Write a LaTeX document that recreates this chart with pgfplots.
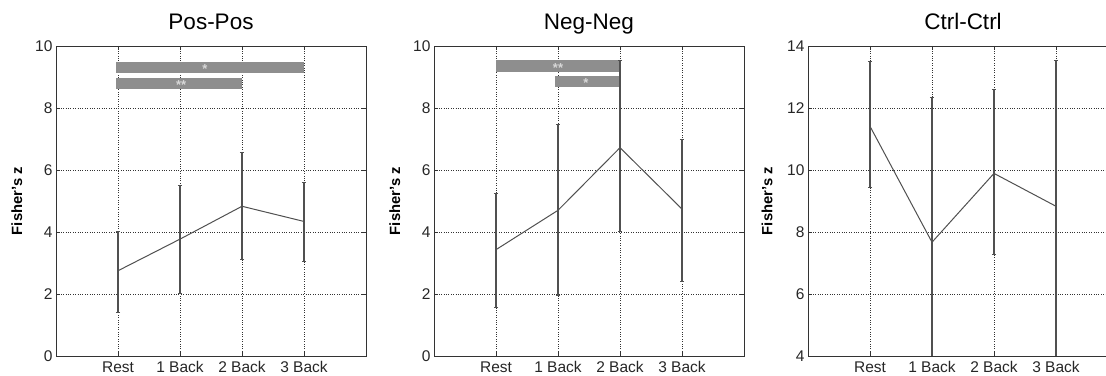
\documentclass[border=0pt]{standalone}
\usepackage{pgfplots}
\pgfplotsset{compat=1.18}
\usepackage{fontspec}
\setmainfont{Liberation Sans}
\definecolor{dline}{HTML}{505050}
\definecolor{barfill}{HTML}{8E8E8E}
\definecolor{starc}{HTML}{D8D8D8}
\pgfplotsset{
  mstyle/.style={
    scale only axis, width=310pt, height=310pt, anchor=south west,
    xmin=0, xmax=5, xtick={1,2,3,4},
    xticklabels={Rest,1 Back,2 Back,3 Back},
    axis line style={draw=black!80, line width=0.9pt},
    tick align=inside, major tick length=4pt,
    tick style={black!80, line width=0.7pt},
    grid=major, major grid style={dotted, black!80, line width=0.9pt},
    /pgf/number format/assume math mode=true,
    tick label style={font=\fontsize{15.5}{18}\selectfont, text=black!85},
    x tick label style={yshift=-2pt},
    title style={font=\fontsize{22.5}{26}\selectfont, anchor=base, at={(axis description cs:0.5,1)}, yshift=10pt},
    ylabel={\textbf{Fisher's z}},
    ylabel style={font=\fontsize{14.8}{17}\selectfont, at={(axis description cs:-0.126,0.5)}, anchor=center, rotate=0},
    clip=true,
  },
  ebar/.style={dline, line width=1pt, mark=none,
    error bars/.cd, y dir=both, y explicit,
    error bar style={line width=1.5pt, dline},
    error mark options={rotate=90, mark size=2.2pt, line width=1pt, dline}},
}
\begin{document}
\begin{tikzpicture}
\useasboundingbox (0,0) rectangle (1106pt,375pt);
% Panel 1
\begin{axis}[mstyle, at={(56pt,19pt)}, ymin=0, ymax=10, ytick={0,2,4,6,8,10}, title={Pos-Pos}]
\addplot[barfill, fill=barfill, draw=none] coordinates {(0.97,9.14) (4.0,9.14) (4.0,9.49) (0.97,9.49)} -- cycle;
\addplot[barfill, fill=barfill, draw=none] coordinates {(0.97,8.62) (3.0,8.62) (3.0,8.98) (0.97,8.98)} -- cycle;
\node[text=starc, font=\fontsize{13}{14}\selectfont\bfseries] at (axis cs:2.4,9.27) {*};
\node[text=starc, font=\fontsize{13}{14}\selectfont\bfseries] at (axis cs:2.02,8.75) {**};
\addplot[ebar] coordinates {
 (1,2.75) += (0,1.25) -= (0,1.35)
 (2,3.77) += (0,1.73) -= (0,1.74)
 (3,4.83) += (0,1.75) -= (0,1.73)
 (4,4.34) += (0,1.26) -= (0,1.29)
};
\end{axis}
% Panel 2
\begin{axis}[mstyle, at={(434pt,19pt)}, ymin=0, ymax=10, ytick={0,2,4,6,8,10}, title={Neg-Neg}]
\addplot[barfill, fill=barfill, draw=none] coordinates {(1.0,9.17) (3.0,9.17) (3.0,9.54) (1.0,9.54)} -- cycle;
\addplot[barfill, fill=barfill, draw=none] coordinates {(1.95,8.69) (3.0,8.69) (3.0,9.04) (1.95,9.04)} -- cycle;
\node[text=starc, font=\fontsize{13}{14}\selectfont\bfseries] at (axis cs:2.0,9.29) {**};
\node[text=starc, font=\fontsize{13}{14}\selectfont\bfseries] at (axis cs:2.45,8.8) {*};
\addplot[ebar] coordinates {
 (1,3.43) += (0,1.80) -= (0,1.86)
 (2,4.70) += (0,2.77) -= (0,2.75)
 (3,6.72) += (0,2.82) -= (0,2.72)
 (4,4.74) += (0,2.24) -= (0,2.34)
};
\end{axis}
% Panel 3
\begin{axis}[mstyle, at={(808pt,19pt)}, ymin=4, ymax=14, ytick={4,6,8,10,12,14}, title={Ctrl-Ctrl},
  ylabel style={at={(axis description cs:-0.132,0.5)}}]
\addplot[ebar] coordinates {
 (1,11.41) += (0,2.08) -= (0,1.97)
 (2,7.67) += (0,4.66) -= (0,4.66)
 (3,9.89) += (0,2.71) -= (0,2.62)
 (4,8.83) += (0,4.71) -= (0,4.83)
};
\end{axis}
\end{tikzpicture}
\end{document}
